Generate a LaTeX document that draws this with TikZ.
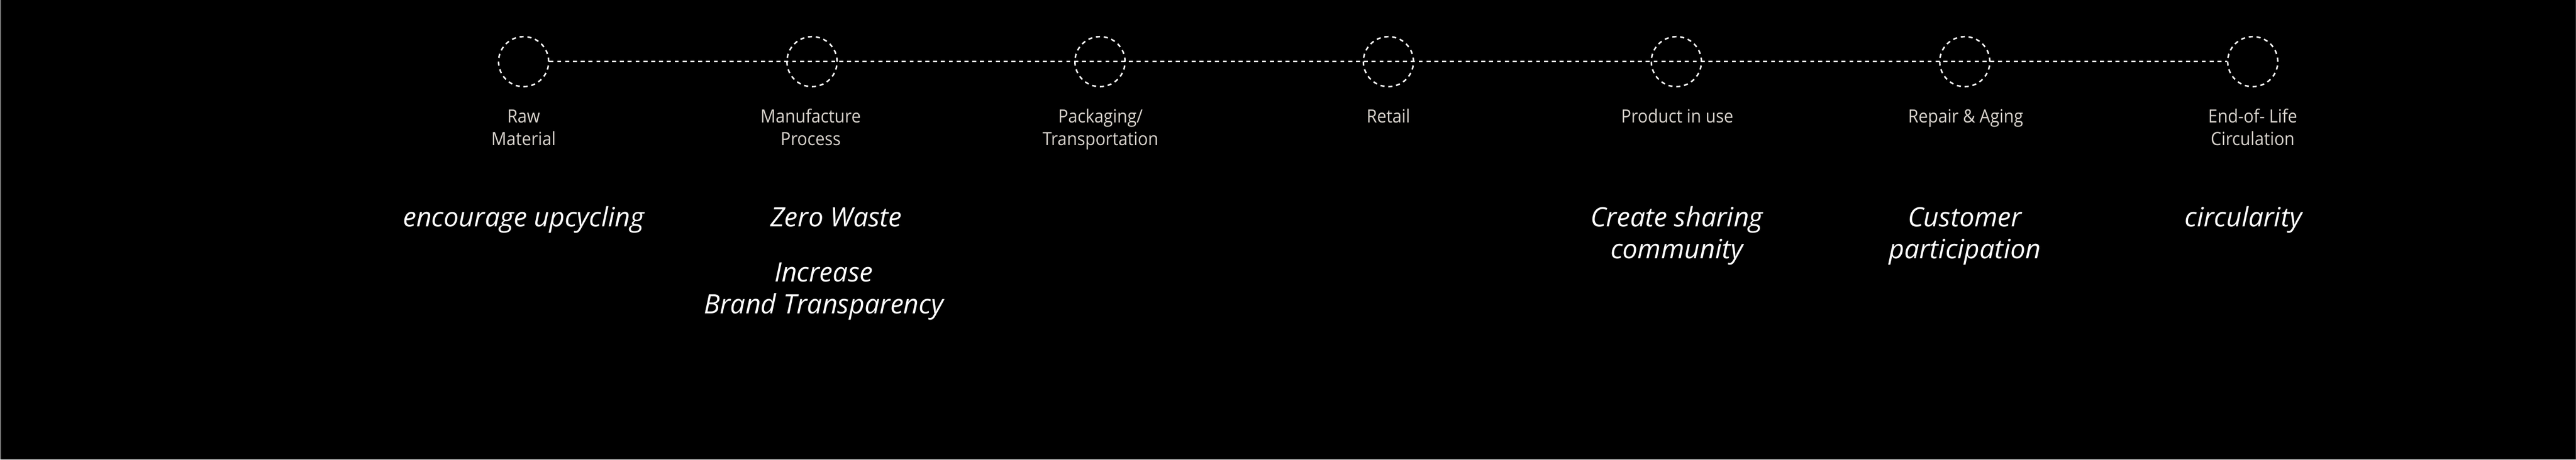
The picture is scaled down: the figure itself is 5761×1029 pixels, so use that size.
\documentclass[tikz,border=0pt]{standalone}
\usepackage{fontspec}
\newfontfamily\labelfont[FakeStretch=0.92]{Open Sans}
\newfontfamily\notefont{Open Sans}
\definecolor{labelgray}{RGB}{216,211,205}
\definecolor{edgegray}{RGB}{120,120,120}
\definecolor{edgedark}{RGB}{60,60,60}
\tikzset{
  stage/.style={circle, draw=white, line width=0.94pt, dash pattern=on 2.6pt off 2.4pt, minimum size=1.12cm, inner sep=0pt},
  timeline/.style={draw=white, line width=0.94pt, dash pattern=on 2.56pt off 2.42pt},
  stagelabel/.style={text=labelgray, font=\labelfont\fontsize{11.6}{14.5}\selectfont, align=center, inner sep=0pt, anchor=base},
  goal/.style={text=white, font=\notefont\itshape\fontsize{17}{20.3}\selectfont, align=center, inner sep=0pt, anchor=base}
}
\begin{document}
\begin{tikzpicture}[x=0.01cm,y=-0.01cm]
\useasboundingbox (0,0) rectangle (5761,1029);
\fill[black] (0,0) rectangle (5761,1029);
\fill[edgegray] (0,0) rectangle (2,1029);
\fill[edgedark] (5760,0) rectangle (5761,1029);
% stages
\node[stage] (c1) at (1171,138) {};
\node[stage] (c2) at (1816,138) {};
\node[stage] (c3) at (2460,138) {};
\node[stage] (c4) at (3105,138) {};
\node[stage] (c5) at (3749,138) {};
\node[stage] (c6) at (4394,138) {};
\node[stage] (c7) at (5038,138) {};
\draw[timeline] (c1.east) -- (c7.west);
% stage labels (anchor = baseline of last line)
\node[stagelabel] (l1) at (1171,326) {Raw\\Material};
\node[stagelabel] (l2) at (1813,326) {Manufacture\\Process};
\node[stagelabel] (l3) at (2461,326) {Packaging/\\Transportation};
\node[stagelabel] (l4) at (3105,275) {Retail};
\node[stagelabel] (l5) at (3751,275) {Product in use};
\node[stagelabel] (l6) at (4396,275) {Repair \& Aging};
\node[stagelabel] (l7) at (5038,326) {End-of- Life\\Circulation};
% goals
\node[goal] (g1) at (1171,508) {encourage upcycling};
\node[goal] (g2) at (1870,508) {Zero Waste};
\node[goal] (g3) at (1842,702) {Increase\\Brand Transparency};
\node[goal] (g5) at (3750,579) {Create sharing\\community};
\node[goal] (g6) at (4394,579) {Customer\\participation};
\node[goal] (g7) at (5017,508) {circularity};
\end{tikzpicture}
\end{document}
